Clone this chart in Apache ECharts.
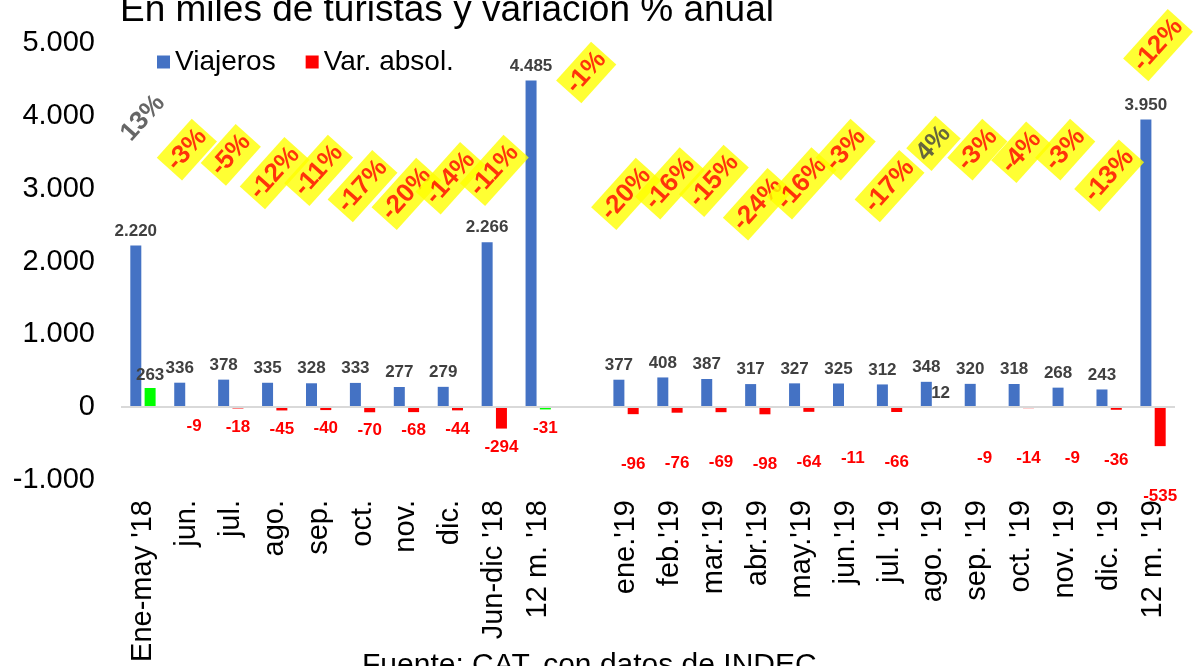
<!DOCTYPE html>
<html><head><meta charset="utf-8">
<script src="https://cdn.jsdelivr.net/npm/echarts@6/dist/echarts.min.js"></script>
<style>html,body{margin:0;padding:0;background:#fff}#c{width:1193px;height:666px}</style>
</head><body><div id="c"></div>
<script>
// ---- data ----
const categories = ["Ene-may '18","jun.","jul.","ago.","sep.","oct.","nov.","dic.","Jun-dic '18","12 m. '18","","ene.'19","feb.'19","mar.'19","abr.'19","may.'19","jun.'19","jul. '19","ago. '19","sep. '19","oct. '19","nov. '19","dic. '19","12 m. '19"];
const viajeros = [2220,336,378,335,328,333,277,279,2266,4485,null,377,408,387,317,327,325,312,348,320,318,268,243,3950];
const varAbsol = [263,-9,-18,-45,-40,-70,-68,-44,-294,-31,null,-96,-76,-69,-98,-64,-11,-66,12,-9,-14,-9,-36,-535];
const varPct = [13,-3,-5,-12,-11,-17,-20,-14,-11,-1,null,-20,-16,-15,-24,-16,-3,-17,4,-3,-4,-3,-13,-12];
const greenBars = ["Ene-may '18","12 m. '18"];
const noBoxPct = ["Ene-may '18"];

// ---- styling ----
const FONT = 'Arial, "Liberation Sans", sans-serif';
const ROT = 48;
const pctLabelShift = {"Ene-may '18":[0,10], "ago. '19":[0,12], "12 m. '18":[48,-72], "12 m. '19":[5,-128]}; // screen-space shifts
const gapIndex = categories.indexOf('');
function fmt(v){
  const s = String(Math.abs(v)).replace(/\B(?=(\d{3})+(?!\d))/g,'.');
  return (v<0?'-':'')+s;
}
function toLocal(sh){
  if (!sh) return [0,0];
  const t = ROT*Math.PI/180, c = Math.cos(t), s = Math.sin(t);
  return [sh[0]*c - sh[1]*s, sh[0]*s + sh[1]*c];
}

const varData = varAbsol.map((v,i)=>{
  if (v==null) return '-';
  const neg = v<0;
  return {
    value: v,
    itemStyle: {color: greenBars.includes(categories[i]) ? '#00FF00' : '#FF0000'},
    label: {
      show: true,
      position: neg ? 'bottom' : 'top',
      distance: neg ? (i>gapIndex ? 42 : 10) : 4,
      color: neg ? '#FF0000' : '#404040'
    }
  };
});

const pctData = varPct.map((v,i)=>{
  if (v==null) return '-';
  const c = categories[i];
  const box = !noBoxPct.includes(c);
  return {
    value: v,
    label: {
      show: true,
      position: 'inside',
      rotate: ROT,
      offset: toLocal(pctLabelShift[c]),
      color: v<0 ? '#FF0000' : '#404040',
      backgroundColor: box ? '#FFFF00' : 'transparent',
      padding: [4,3]
    }
  };
});

const chart = echarts.init(document.getElementById('c'));
chart.setOption({
  animation: false,
  textStyle: {fontFamily: FONT},
  title: [
    {text: 'En miles de turistas y variación % anual', left: 115, top: -13,
     textStyle: {fontSize: 37, fontWeight: 'normal', color: '#000', fontFamily: FONT}},
    {text: 'Fuente: CAT, con datos de INDEC', left: 357, top: 646,
     textStyle: {fontSize: 30, fontWeight: 'normal', color: '#000', fontFamily: FONT}}
  ],
  legend: {
    data: ['Viajeros','Var. absol.'],
    left: 152, top: 43, icon: 'rect', itemWidth: 13, itemHeight: 13, itemGap: 30,
    textStyle: {fontSize: 28, color: '#000', fontFamily: FONT}
  },
  grid: {left: 121, right: 18, top: 43, bottom: 186, containLabel: false, outerBoundsMode: 'none'},
  xAxis: {
    type: 'category', data: categories,
    axisLine: {show: false, onZero: false}, axisTick: {show: false},
    axisLabel: {rotate: 90, interval: 0, margin: 20, fontSize: 29, color: '#000', fontFamily: FONT}
  },
  yAxis: [
    {type: 'value', min: -1000, max: 5000, interval: 1000,
     splitLine: {show: false}, axisLine: {show: false}, axisTick: {show: false},
     axisLabel: {formatter: v=>fmt(v), fontSize: 29, color: '#000', margin: 26, fontFamily: FONT}},
    {type: 'value', min: -130, max: 38, show: false, splitLine: {show: false}}
  ],
  series: [
    {name: 'Viajeros', type: 'bar', data: viajeros.map(v=>v==null?'-':v),
     barWidth: 11, barGap: '30%',
     itemStyle: {color: '#4472C4'},
     label: {show: true, position: 'top', distance: 6, formatter: p=>fmt(p.value),
       fontSize: 17, fontWeight: 'bold', color: '#404040'}},
    {name: 'Var. absol.', type: 'bar', data: varData,
     barWidth: 11,
     itemStyle: {color: '#FF0000'},
     label: {show: true, formatter: p=>fmt(p.value), fontSize: 17, fontWeight: 'bold'},
     markLine: {silent: true, symbol: ['none','none'], label: {show: false},
       lineStyle: {color: '#D9D9D9', width: 2, type: 'solid'}, data: [{yAxis: 0}]}},
    {name: 'Var. %', type: 'scatter', yAxisIndex: 1, data: pctData,
     symbolSize: 1, itemStyle: {color: 'rgba(0,0,0,0)'}, z: 10, silent: true,
     label: {show: true, formatter: p=>p.value+'%', fontSize: 26, fontWeight: 'bold'}}
  ]
});
</script></body></html>
